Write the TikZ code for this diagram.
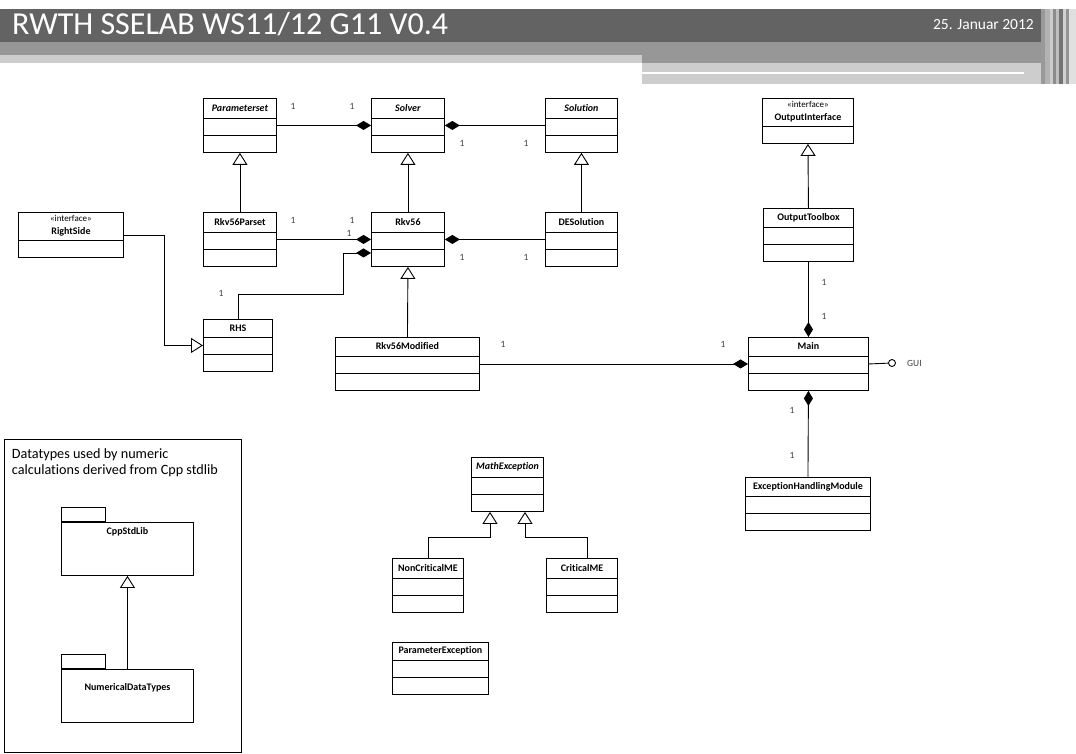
\documentclass[tikz,border=0pt]{standalone}
\usepackage{fontspec}
\setmainfont[Ligatures=NoCommon]{Carlito}
\usetikzlibrary{arrows.meta,calc,positioning}

\definecolor{hdrdark}{HTML}{636363}
\definecolor{hdrmid}{HTML}{979797}
\definecolor{hdrlight}{HTML}{CDCDCD}

% class with name, attribute and method compartment
\newcommand{\umlclass}[5][20]{%
	\node[classbox, minimum width=#4, minimum height=#1+34, anchor=north west] at (#3) (#2) {};
	\node[classname] at ($(#2.north)+(0,-#1/2)$) (#2-name) {#5};
	\draw[divider] ($(#2.north west)+(0,-#1)$) -- ($(#2.north east)+(0,-#1)$);
	\draw[divider] ($(#2.north west)+(0,-#1-17)$) -- ($(#2.north east)+(0,-#1-17)$);
}

% interface: stereotype + name, one compartment
\newcommand{\umliface}[4]{%
	\node[classbox, minimum width=#3, minimum height=45, anchor=north west] at (#2) (#1) {};
	\node[classname, align=center] at ($(#1.north)+(0,-14)$) (#1-name) {{\mdseries\fontsize{9}{13}\selectfont «interface»}\\#4};
	\draw[divider] ($(#1.north west)+(0,-28)$) -- ($(#1.north east)+(0,-28)$);
}

\begin{document}
\begin{tikzpicture}[x=1pt, y=1pt,
	classbox/.style={rectangle, draw=black, line width=0.9pt, inner sep=0mm},
	classname/.style={inner sep=0mm, font=\fontsize{10}{13}\selectfont\bfseries},
	divider/.style={line width=0.9pt},
	mult/.style={inner sep=0mm, text=black!75, font=\fontsize{9.5}{10}\selectfont},
	comp/.style={line width=0.9pt, -{Diamond[length=15pt, width=9pt]}},
	inherit/.style={line width=0.9pt, -{Triangle[open, length=12pt, width=15pt]}},
	pkgbox/.style={rectangle, draw=black, line width=0.9pt, inner sep=0mm},
	dtbox/.style={rectangle, draw=black, line width=0.9pt, inner sep=0mm}]

	\useasboundingbox (0,0) rectangle (1076,-754);

	% page header
	\fill[hdrdark] (0,-9) rectangle (1041,-42);
	\fill[hdrmid] (0,-42) rectangle (1041,-55);
	\fill[hdrmid] (642,-55) rectangle (1041,-63);
	\fill[hdrlight] (0,-55) rectangle (642,-63);
	\fill[hdrlight] (642,-63) rectangle (1058,-84);
	\fill[white] (642,-72) rectangle (1024,-74);
	\foreach \xa/\xb/\shade in {1041/1045/40, 1045/1050/30, 1050/1053/20, 1053/1056/45, 1056/1059/25, 1059/1063/55, 1063/1066/18, 1066/1069/42, 1069/1076/12}
		\fill[black!\shade!white] (\xa,-9) rectangle (\xb,-84);

	\node[anchor=base west, text=white, inner sep=0mm, font=\fontsize{32}{36}\selectfont] at (12,-34.3) (title) {RWTH SSELAB WS11/12 G11 V0.4};
	\node[anchor=base east, text=white, inner sep=0mm, font=\fontsize{15.5}{18}\selectfont] at (1034,-29.3) (date) {25. Januar 2012};

	% classes
	\umlclass{param}{203,-98}{73}{\textit{Parameterset}}
	\umlclass{solver}{371,-98}{73}{\textit{Solver}}
	\umlclass{solution}{545,-98}{72}{\textit{Solution}}
	\umliface{outif}{762,-98}{91}{OutputInterface}

	\umliface{rightside}{18,-212}{105}{RightSide}
	\umlclass{rkvparset}{203,-212}{73}{Rkv56Parset}
	\umlclass{rkv}{371,-212}{73}{Rkv56}
	\umlclass{desol}{545,-212}{72}{DESolution}
	\umlclass[19]{toolbox}{763,-208}{90}{OutputToolbox}

	\umlclass[18]{rhs}{203,-319}{69}{RHS}
	\umlclass[19]{rkvmod}{335,-337}{144}{Rkv56Modified}
	\umlclass[19]{main}{748,-337}{120}{Main}
	\umlclass[19]{ehm}{745,-477}{125}{ExceptionHandlingModule}

	\umlclass{mathex}{471,-457}{72}{\textit{MathException}}
	\umlclass{noncrit}{392,-558}{71}{NonCriticalME}
	\umlclass{crit}{546,-558}{71}{CriticalME}
	\umlclass[18]{paramex}{392,-642}{96}{ParameterException}

	% compositions
	\draw[comp] (param.east) -- (solver.west);
	\draw[comp] (solution.west) -- (solver.east);
	\draw[comp] (rkvparset.east) -- (rkv.west);
	\draw[comp] (desol.west) -- (rkv.east);
	\coordinate (rhsbend) at (343,-294);
	\draw[comp] (rhs.north) |- (rhsbend) |- ($(rkv.west)+(0,-13.5)$);
	\draw[comp] (rkvmod.east) -- (main.west);
	\draw[comp] (toolbox.south) -- (main.north);
	\draw[comp] (ehm.north) -- (main.south);

	% generalizations
	\draw[inherit] (rkvparset.north) -- (param.south);
	\draw[inherit] (rkv.north) -- (solver.south);
	\draw[inherit] (desol.north) -- (solution.south);
	\draw[inherit] (rkvmod.north) -- (rkv.south);
	\draw[inherit] (toolbox.north) -- (outif.south);
	\draw[inherit] (rightside.east) -| ($(rhs.west)+(-39,0)$) -- (rhs.west);
	\coordinate (mxleft) at (490,-537);
	\coordinate (mxright) at (525,-537);
	\draw[inherit] (noncrit.north) |- (mxleft) -- (mxleft |- mathex.south);
	\draw[inherit] ($(crit.north)+(5,0)$) |- (mxright) -- (mxright |- mathex.south);

	% provided interface
	\node[circle, draw=black, line width=0.9pt, minimum size=7, inner sep=0mm] at (892,-363) (gui) {};
	\draw[line width=0.9pt] (main.east) -- (gui);
	\node[mult, anchor=west] at (907,-363) (guilabel) {GUI};

	% multiplicities
	\foreach \mx/\my [count=\i] in {293/-106, 352/-106, 462/-143, 526/-143, 293/-220, 352/-220, 349/-233, 462/-257, 526/-257, 221/-293, 824/-282, 824/-316, 503/-344, 723/-344, 792/-410, 792/-455}
		\node[mult] at (\mx,\my) (m\i) {1};

	% datatypes
	\node[dtbox, minimum width=237, minimum height=313, anchor=north west] at (4,-439) (dtframe) {};
	\node[anchor=north west, align=left, inner sep=0mm, font=\fontsize{14.2}{15.7}\selectfont] at (11.7,-448.8) (dttext) {Datatypes used by numeric\\calculations derived from Cpp stdlib};

	\node[pkgbox, minimum width=132, minimum height=53, anchor=north west] at (61,-522) (cpp) {};
	\node[pkgbox, minimum width=44, minimum height=14, anchor=south west] at (cpp.north west) (cpp-tab) {};
	\node[classname] at ($(cpp.north)+(0,-9.5)$) (cpp-name) {CppStdLib};

	\node[pkgbox, minimum width=132, minimum height=53, anchor=north west] at (61,-669) (num) {};
	\node[pkgbox, minimum width=44, minimum height=14, anchor=south west] at (num.north west) (num-tab) {};
	\node[classname] at ($(num.north)+(0,-19)$) (num-name) {NumericalDataTypes};

	\draw[inherit] (num.north) -- (cpp.south);

\end{tikzpicture}
\end{document}
